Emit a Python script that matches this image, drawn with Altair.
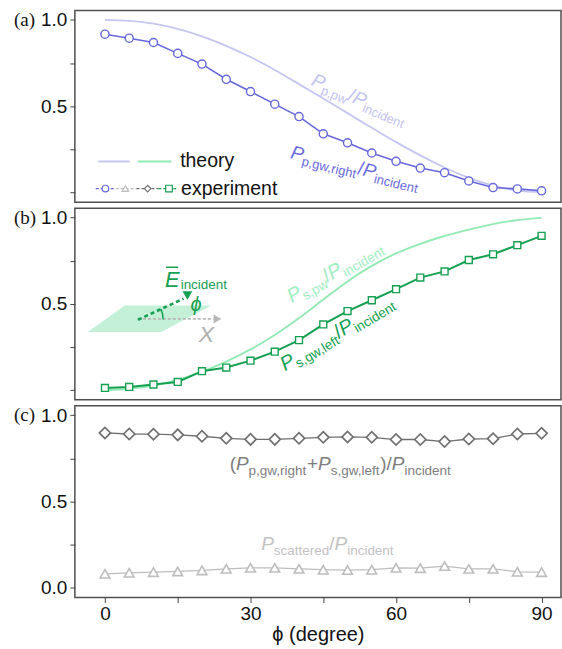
import altair as alt
import pandas as pd

# ---------------- data ----------------
phi = [0, 5, 10, 15, 20, 25, 30, 35, 40, 45, 50, 55, 60, 65, 70, 75, 80, 85, 90]
p_gw_right = [0.917, 0.894, 0.869, 0.806, 0.744, 0.656, 0.585, 0.512, 0.440, 0.340,
              0.288, 0.229, 0.181, 0.142, 0.115, 0.067, 0.029, 0.021, 0.010]
p_pw_theory = [1.0, 0.994, 0.978, 0.948, 0.905, 0.85, 0.785, 0.71, 0.628, 0.545,
               0.46, 0.375, 0.292, 0.215, 0.145, 0.085, 0.04, 0.012, 0.003]
s_gw_left = [0.013, 0.019, 0.033, 0.048, 0.110, 0.131, 0.171, 0.223, 0.290, 0.381,
             0.458, 0.521, 0.585, 0.652, 0.688, 0.754, 0.787, 0.840, 0.894]
s_pw_theory = [0.0, 0.008, 0.027, 0.06, 0.108, 0.166, 0.236, 0.32, 0.418, 0.525,
               0.63, 0.72, 0.792, 0.848, 0.893, 0.93, 0.962, 0.985, 0.998]
gw_sum = [0.897, 0.891, 0.890, 0.886, 0.878, 0.866, 0.860, 0.860, 0.866, 0.872,
          0.874, 0.872, 0.859, 0.859, 0.847, 0.862, 0.864, 0.891, 0.895]
scattered = [0.081, 0.087, 0.091, 0.095, 0.101, 0.110, 0.116, 0.116, 0.110, 0.105,
             0.103, 0.105, 0.116, 0.114, 0.126, 0.110, 0.110, 0.093, 0.091]

y_ticks = [0, 0.25, 0.5, 0.75, 1.0]
x_ticks = [0, 15, 30, 45, 60, 75, 90]

df = pd.DataFrame({"phi": phi, "p_exp": p_gw_right, "p_th": p_pw_theory,
                   "s_exp": s_gw_left, "s_th": s_pw_theory,
                   "sum": gw_sum, "scat": scattered})
ONE = pd.DataFrame({"_": [0]})

# ---------------- styling ----------------
SANS = "Liberation Sans"
SERIF = "Liberation Serif"
W, H = 487, 192
XS = alt.Scale(domain=[-6.2, 94.0], nice=False, zero=False)
YS = alt.Scale(domain=[-0.056, 1.054], nice=False, zero=False)

BLUE = "#6767dc"
LAV = "#c6c6f1"
GREEN = "#16a052"
MINT = "#92eab4"
DGRAY = "#707070"
LGRAY = "#bdbdbd"

# Helvetica / Arial advance widths (per 1000 em)
CW = {' ': 278, '(': 333, ')': 333, '+': 584, ',': 278, '.': 278, '/': 278,
      'P': 667, 'E': 667, 'X': 667,
      'a': 556, 'b': 556, 'c': 500, 'd': 556, 'e': 556, 'f': 278, 'g': 556,
      'h': 556, 'i': 222, 'j': 222, 'k': 500, 'l': 222, 'm': 833, 'n': 556,
      'o': 556, 'p': 556, 'q': 556, 'r': 333, 's': 500, 't': 278, 'u': 556,
      'v': 500, 'w': 722, 'x': 500, 'y': 500, 'z': 500}


def tw(s, size):
    return sum(CW.get(c, 556) for c in s) * size / 1000.0


def yaxis(show_zero):
    zero = "datum.value == 0 ? '0.0' : ''" if show_zero else "''"
    expr = ("datum.value == 1 ? '1.0' : datum.value == 0.5 ? '0.5' : " + zero)
    return alt.Axis(values=y_ticks, labelExpr=expr, title=None, grid=False,
                    domain=False, tickSize=5, tickColor="#444", tickWidth=1,
                    labelFont=SANS, labelFontSize=19, labelColor="#111",
                    labelPadding=3)


XAX_C = alt.Axis(values=x_ticks, grid=False, domain=False,
                 labelExpr="datum.value % 30 == 0 ? datum.label : ''",
                 tickSize=5, tickColor="#444", labelFont=SANS,
                 labelFontSize=19, labelColor="#111", labelPadding=2,
                 title="ϕ (degree)", titleFont=SANS,
                 titleFontSize=20, titleFontWeight="normal",
                 titleColor="#111", titlePadding=1)


class Panel:
    def __init__(self, xaxis, yaxis_):
        self.xa = xaxis
        self.ya = yaxis_

    def X(self, field):
        if self.xa is None:
            return alt.X(field, scale=XS, axis=None)
        return alt.X(field, scale=XS, axis=self.xa)

    def Y(self, field):
        return alt.Y(field, scale=YS, axis=self.ya)

    def XD(self, v):
        if self.xa is None:
            return alt.XDatum(v, type="quantitative", scale=XS, axis=None)
        return alt.XDatum(v, type="quantitative", scale=XS, axis=self.xa)

    def YD(self, v):
        return alt.YDatum(v, type="quantitative", scale=YS, axis=self.ya)

    def txt(self, x, y, text, size, color, style="normal", angle=0, dx=0,
            dy=0, align="left", baseline="alphabetic", font=SANS):
        return alt.Chart(ONE).mark_text(
            text=text, fontSize=size, color=color, fontStyle=style,
            angle=angle % 360, dx=dx, dy=dy, align=align, baseline=baseline,
            font=font).encode(x=self.XD(x), y=self.YD(y))

    def rich(self, x, y, parts, color, M, S, angle=0, sub_dy=4.5):
        layers = []
        off = 0.0
        for t, kind in parts:
            if kind == "sub":
                size, style, dy = S, "normal", sub_dy
            elif kind == "it":
                size, style, dy = M, "italic", 0
            else:
                size, style, dy = M, "normal", 0
            layers.append(self.txt(x, y, t, size, color, style, angle,
                                   dx=off, dy=dy))
            off += tw(t, size)
        return layers

    def series(self, col, color, shape, size, line_w, sw=1.4):
        line = alt.Chart(df).mark_line(color=color, strokeWidth=line_w).encode(
            x=self.X("phi:Q"), y=self.Y(f"{col}:Q"))
        pts = alt.Chart(df).mark_point(shape=shape, filled=True, fill="white",
                                       stroke=color, strokeWidth=sw,
                                       size=size, opacity=1).encode(
            x=self.X("phi:Q"), y=self.Y(f"{col}:Q"))
        return [line, pts]

    def theory(self, col, color):
        return alt.Chart(df).mark_line(color=color, strokeWidth=1.9,
                                       interpolate="monotone").encode(
            x=self.X("phi:Q"), y=self.Y(f"{col}:Q"))

    def label(self, t):
        return alt.Chart(ONE).mark_text(text=t, font=SERIF, fontSize=19,
                                        color="#111", align="left",
                                        baseline="middle").encode(
            x=alt.value(-61), y=self.YD(1.0))

    def rule(self, x1, x2, y1, color, w, dash=None, y2=None):
        kw = dict(color=color, strokeWidth=w)
        if dash:
            kw["strokeDash"] = dash
        enc = dict(x=self.XD(x1), x2=alt.X2Datum(x2), y=self.YD(y1))
        if y2 is not None:
            enc["y2"] = alt.Y2Datum(y2)
        return alt.Chart(ONE).mark_rule(**kw).encode(**enc)

    def sym(self, x, y, shape, size, fill, stroke, sw=1.2):
        return alt.Chart(ONE).mark_point(shape=shape, filled=True, fill=fill,
                                         stroke=stroke, strokeWidth=sw,
                                         size=size, opacity=1).encode(
            x=self.XD(x), y=self.YD(y))


# ---------------- panel (a) ----------------
A = Panel(None, yaxis(False))
leg = [A.rule(-1.4, 5.1, 0.18, LAV, 2), A.rule(6.8, 13.7, 0.18, MINT, 2),
       A.txt(15.5, 0.18, "theory", 19.5, "#111", baseline="middle")]
for a, b, c in [(-1.9, 2.2, BLUE), (2.2, 6.5, LGRAY), (6.5, 11.0, DGRAY),
                (11.0, 15.0, GREEN)]:
    leg.append(A.rule(a, b, 0.023, c, 1.4, dash=[3, 2]))
for xv, shp, c in [(0.1, "circle", BLUE), (4.2, "triangle-up", LGRAY),
                   (8.8, "diamond", DGRAY), (13.2, "square", GREEN)]:
    leg.append(A.sym(xv, 0.023, shp, 44, "white", c))
leg.append(A.txt(15.7, 0.023, "experiment", 19.5, "#111", baseline="middle"))

lab_a1 = A.rich(42.3, 0.625, [("P", "it"), ("p,pw", "sub"), ("/", "m"),
                              ("P", "it"), ("incident", "sub")],
                "#c3c3ef", 19, 12.8, angle=23)
lab_a2 = A.rich(38.1, 0.20, [("P", "it"), ("p,gw,right", "sub"), ("/", "m"),
                             ("P", "it"), ("incident", "sub")],
                "#6b6bdf", 19, 13, angle=13.5)

pa = alt.layer(
    A.theory("p_th", LAV),
    *A.series("p_exp", BLUE, "circle", 66, 1.6),
    *lab_a1, *lab_a2, *leg,
    A.label("(a)"),
).properties(width=W, height=H)

# ---------------- panel (b) ----------------
B = Panel(None, yaxis(False))
para = pd.DataFrame({"py": [0.337, 0.49], "px1": [-3.56, 4.1],
                     "px2": [11.6, 21.9]})
inset = [
    alt.Chart(para).mark_area(orient="horizontal", color="#bdeed3",
                              opacity=0.9).encode(
        y=B.Y("py:Q"), x=B.X("px1:Q"), x2="px2:Q"),
    B.rule(6.8, 22.4, 0.413, "#b8b8b8", 1.8, dash=[3, 2]),
    B.sym(23.2, 0.413, "triangle-right", 80, "#b8b8b8", "#b8b8b8", 0),
    B.rule(6.8, 16.2, 0.408, GREEN, 2.6, dash=[4, 3], y2=0.53),
    B.sym(17.0, 0.548, "triangle-down", 95, GREEN, GREEN, 0),
    alt.Chart(ONE).mark_arc(radius=26, radius2=24.5, theta=1.15, theta2=1.57,
                            color=GREEN).encode(x=B.XD(6.8), y=B.YD(0.41)),
    B.txt(20.9, 0.321, "X", 23, "#b0b0b0", style="italic", align="center",
          baseline="middle"),
    B.txt(12.4, 0.60, "E", 22, GREEN, style="italic"),
    B.rule(12.6, 15.1, 0.712, GREEN, 1.5),
    B.txt(15.6, 0.587, "incident", 13.5, GREEN),
    B.txt(18.8, 0.494, "ϕ", 20, GREEN, style="italic", align="center",
          baseline="middle"),
]

lab_b1 = B.rich(38.5, 0.504, [("P", "it"), ("s,pw", "sub"), ("/", "m"),
                              ("P", "it"), ("incident", "sub")],
                "#a2eec2", 20, 13.5, angle=-30)
lab_b2 = B.rich(37.1, 0.11, [("P", "it"), ("s,gw,left", "sub"), ("/", "m"),
                             ("P", "it"), ("incident", "sub")],
                GREEN, 20, 13.5, angle=-31)

pb = alt.layer(
    B.theory("s_th", MINT),
    *inset,
    *B.series("s_exp", GREEN, "square", 48, 2.0),
    *lab_b1, *lab_b2,
    B.label("(b)"),
).properties(width=W, height=H)

# ---------------- panel (c) ----------------
C = Panel(XAX_C, yaxis(True))
lab_c1 = C.rich(25.7, 0.682, [("(", "m"), ("P", "it"), ("p,gw,right", "sub"),
                              ("+", "m"), ("P", "it"), ("s,gw,left", "sub"),
                              (")/", "m"), ("P", "it"), ("incident", "sub")],
                "#7e7e7e", 19, 13.5)
lab_c2 = C.rich(32.2, 0.217, [("P", "it"), ("scattered", "sub"), ("/", "m"),
                              ("P", "it"), ("incident", "sub")],
                "#c2c2c2", 19, 13.5)

pc = alt.layer(
    *C.series("sum", DGRAY, "diamond", 125, 1.3, sw=1.7),
    *C.series("scat", LGRAY, "triangle-up", 95, 1.2, sw=1.6),
    *lab_c1, *lab_c2,
    C.label("(c)"),
).properties(width=W, height=H)

chart = alt.vconcat(pa, pb, pc, spacing=6, bounds="flush").properties(
    padding={"left": 13, "top": 9, "right": 0, "bottom": 0},
    background="white",
).configure_view(stroke="#505050", strokeWidth=1.5)

chart.save("out.html", embed_options={"renderer": "svg", "actions": False})
